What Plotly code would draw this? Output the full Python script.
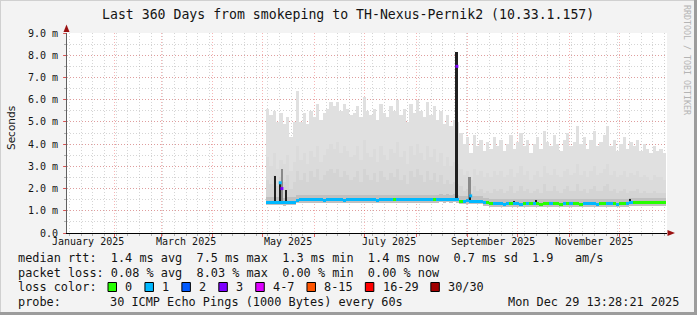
import plotly.graph_objects as go
import pandas as pd

# ---------------- data ----------------
axis_start = "2025-01-03 13:28:21"
axis_end = "2025-12-29 13:28:21"
data_start = "2025-05-03"          # first 2-day bin
bin_days = 2

smoke_max = [5.6, 5.3, 5.5, 5.0, 5.4, 4.9, 5.2, 4.3, 5.0, 6.4,
             5.0, 5.4, 4.9, 5.5, 5.2, 5.8, 5.1, 5.4, 5.6, 5.9,
             5.7, 5.9, 5.5, 5.8, 5.6, 5.3, 5.4, 5.7, 5.2, 6.1,
             5.5, 5.3, 5.6, 5.1, 5.8, 5.4, 5.2, 5.7, 5.5, 6.0,
             5.3, 5.6, 5.0, 5.8, 5.4, 6.0, 5.5, 5.2, 5.9, 5.3,
             5.7, 5.1, 5.5, 4.9, 5.3, 4.8, 5.1, 5.0, 4.5, 4.0,
             4.3, 3.6, 4.4, 3.9, 4.2, 3.7, 4.1, 3.8, 4.3, 3.9,
             4.2, 3.7, 4.0, 4.4, 3.8, 4.1, 4.5, 3.9, 4.2, 3.6,
             4.0, 4.3, 3.8, 4.6, 4.1, 3.9, 4.4, 4.0, 3.7, 4.2,
             4.5, 3.9, 4.1, 4.8, 4.0, 4.3, 3.8, 4.2, 4.6, 3.9,
             4.1, 4.4, 4.8, 3.9, 4.2, 3.7, 4.0, 4.3, 3.8, 4.1,
             3.9, 4.2, 3.7, 4.0, 3.8, 3.6, 3.9, 3.7, 3.8, 3.6]

smoke_p85 = [3.4, 3.0, 3.6, 2.9, 3.3, 3.1, 3.5, 2.8, 3.2, 3.9,
             3.3, 3.6, 3.1, 3.7, 3.4, 3.9, 3.2, 3.5, 3.8, 4.0,
             3.8, 4.1, 3.6, 3.9, 3.7, 3.4, 3.5, 3.9, 3.3, 4.2,
             3.6, 3.4, 3.8, 3.2, 3.9, 3.5, 3.3, 3.8, 3.6, 4.1,
             3.4, 3.7, 3.1, 3.9, 3.5, 4.0, 3.6, 3.3, 3.9, 3.4,
             3.8, 3.2, 3.6, 3.0, 3.4, 3.0, 3.2, 3.1, 2.9, 2.6,
             2.8, 2.4, 2.9, 2.6, 2.8, 2.5, 2.7, 2.5, 2.8, 2.6,
             2.8, 2.5, 2.6, 2.9, 2.5, 2.7, 3.0, 2.6, 2.8, 2.4,
             2.6, 2.8, 2.5, 3.0, 2.7, 2.6, 2.9, 2.6, 2.5, 2.8,
             2.9, 2.6, 2.7, 3.1, 2.6, 2.8, 2.5, 2.8, 3.0, 2.6,
             2.7, 2.9, 3.1, 2.6, 2.8, 2.5, 2.6, 2.8, 2.5, 2.7,
             2.6, 2.8, 2.5, 2.6, 2.5, 2.4, 2.6, 2.5, 2.5, 2.4]

smoke_p70 = [2.4, 2.2, 2.6, 2.1, 2.5, 2.3, 2.6, 2.0, 2.3, 2.8,
             2.4, 2.7, 2.3, 2.8, 2.5, 2.9, 2.4, 2.6, 2.8, 2.9,
             2.7, 2.9, 2.5, 2.8, 2.6, 2.4, 2.5, 2.8, 2.3, 2.9,
             2.6, 2.4, 2.7, 2.3, 2.8, 2.5, 2.4, 2.7, 2.5, 2.9,
             2.4, 2.6, 2.2, 2.8, 2.5, 2.9, 2.6, 2.3, 2.8, 2.4,
             2.7, 2.3, 2.6, 2.2, 2.4, 2.2, 2.3, 2.2, 2.1, 1.9,
             2.0, 1.8, 2.1, 1.9, 2.0, 1.8, 1.9, 1.8, 2.0, 1.9,
             2.0, 1.8, 1.9, 2.1, 1.8, 1.9, 2.1, 1.9, 2.0, 1.8,
             1.9, 2.0, 1.8, 2.2, 1.9, 1.9, 2.1, 1.9, 1.8, 2.0,
             2.1, 1.9, 1.9, 2.2, 1.9, 2.0, 1.8, 2.0, 2.1, 1.9,
             1.9, 2.1, 2.2, 1.9, 2.0, 1.8, 1.9, 2.0, 1.8, 1.9,
             1.9, 2.0, 1.8, 1.9, 1.8, 1.8, 1.9, 1.8, 1.8, 1.8]

smoke_min = [1.28, 1.28, 1.27, 1.28, 1.28, 1.27, 1.28, 1.28, 1.28, 1.37,
             1.38, 1.38, 1.38, 1.37, 1.38, 1.38, 1.38, 1.37, 1.38, 1.38,
             1.38, 1.38, 1.37, 1.38, 1.38, 1.38, 1.38, 1.37, 1.38, 1.38,
             1.38, 1.38, 1.38, 1.37, 1.38, 1.38, 1.38, 1.38, 1.37, 1.38,
             1.38, 1.38, 1.38, 1.38, 1.38, 1.37, 1.38, 1.39, 1.38, 1.38,
             1.39, 1.38, 1.39, 1.40, 1.39, 1.40, 1.39, 1.38, 1.33, 1.33,
             1.34, 1.33, 1.33, 1.32, 1.33, 1.26, 1.26, 1.20, 1.20, 1.21,
             1.20, 1.20, 1.20, 1.21, 1.20, 1.20, 1.20, 1.19, 1.20, 1.20,
             1.21, 1.20, 1.20, 1.20, 1.20, 1.21, 1.20, 1.20, 1.20, 1.20,
             1.20, 1.21, 1.20, 1.20, 1.20, 1.20, 1.21, 1.20, 1.20, 1.20,
             1.20, 1.20, 1.21, 1.20, 1.20, 1.20, 1.20, 1.20, 1.21, 1.24,
             1.24, 1.24, 1.25, 1.24, 1.24, 1.24, 1.25, 1.24, 1.24, 1.24]

median_rtt = [1.38, 1.38, 1.39, 1.38, 1.38, 1.37, 1.38, 1.38, 1.39, 1.48,
              1.49, 1.49, 1.50, 1.49, 1.49, 1.50, 1.49, 1.48, 1.49, 1.49,
              1.50, 1.49, 1.49, 1.48, 1.49, 1.50, 1.49, 1.49, 1.50, 1.49,
              1.49, 1.50, 1.49, 1.48, 1.49, 1.49, 1.50, 1.49, 1.49, 1.50,
              1.49, 1.49, 1.50, 1.50, 1.49, 1.50, 1.51, 1.50, 1.50, 1.51,
              1.50, 1.51, 1.52, 1.51, 1.52, 1.51, 1.52, 1.50, 1.44, 1.44,
              1.45, 1.44, 1.44, 1.43, 1.44, 1.37, 1.37, 1.31, 1.31, 1.32,
              1.31, 1.30, 1.31, 1.31, 1.32, 1.31, 1.30, 1.31, 1.31, 1.31,
              1.32, 1.31, 1.30, 1.31, 1.31, 1.31, 1.32, 1.31, 1.30, 1.31,
              1.31, 1.32, 1.31, 1.31, 1.30, 1.31, 1.31, 1.32, 1.31, 1.30,
              1.31, 1.31, 1.31, 1.32, 1.31, 1.30, 1.31, 1.31, 1.31, 1.36,
              1.36, 1.36, 1.37, 1.36, 1.36, 1.36, 1.37, 1.36, 1.36, 1.36]

loss_count = [1, 1, 1, 1, 1, 1, 1, 1, 1, 1,
              1, 1, 1, 1, 1, 1, 1, 1, 1, 1,
              1, 1, 1, 1, 1, 1, 1, 1, 1, 1,
              1, 1, 1, 1, 1, 1, 1, 1, 0, 1,
              1, 1, 1, 1, 1, 1, 1, 1, 1, 1,
              0, 1, 1, 1, 1, 1, 1, 1, 0, 1,
              1, 1, 1, 1, 1, 1, 0, 0, 1, 1,
              1, 1, 1, 0, 1, 1, 1, 0, 1, 0,
              1, 0, 0, 0, 0, 1, 0, 0, 0, 1,
              0, 1, 0, 0, 0, 1, 1, 1, 1, 1,
              0, 0, 1, 1, 0, 1, 0, 0, 1, 1,
              0, 0, 0, 0, 0, 0, 0, 0, 0, 0]

# isolated spikes: date, low, high
spike_dates = ["2025-05-08 12:00", "2025-05-11 12:00", "2025-05-12 12:00", "2025-05-15 00:00",
               "2025-08-25 12:00", "2025-09-02 06:00", "2025-09-02 18:00", "2025-09-29 00:00",
               "2025-10-12 00:00", "2025-12-07 12:00"]
spike_low = [1.40, 1.40, 1.40, 1.40, 1.50, 1.46, 1.46, 1.30, 1.30, 1.33]
spike_high = [2.57, 2.25, 2.90, 1.93, 8.16, 2.50, 1.72, 1.45, 1.47, 1.52]
spike_days = [1.0, 1.0, 1.0, 1.0, 1.8, 1.0, 1.0, 1.0, 1.0, 1.0]
spike_shade = [0, 0, 1, 0, 0, 1, 0, 0, 0, 0]

dot_dates = ["2025-05-11 12:00", "2025-05-12 12:00", "2025-08-25 12:00", "2025-09-02 18:00"]
dot_values = [2.26, 2.00, 7.50, 1.67]
dot_loss = [1, 3, 3, 1]

y_ticks = [0, 1, 2, 3, 4, 5, 6, 7, 8, 9]
y_ticktext = ["0.0", "1.0 m", "2.0 m", "3.0 m", "4.0 m", "5.0 m", "6.0 m", "7.0 m", "8.0 m", "9.0 m"]
month_labels = ["January 2025", "March 2025", "May 2025", "July 2025", "September 2025", "November 2025"]
month_label_dates = ["2025-01-16", "2025-03-16", "2025-05-16", "2025-07-16", "2025-09-16", "2025-11-16"]

loss_labels = ["0", "1", "2", "3", "4-7", "8-15", "16-29", "30/30"]
loss_colors = ["#26ff00", "#00b8ff", "#0059ff", "#7e00ff", "#dd00ff", "#ff5500", "#ff0000", "#a10000"]

# ---------------- geometry helpers ----------------
W, H = 697, 315
L, R, T, B = 67, 30, 33, 82
PW, PH = W - L - R, H - T - B

def px(x):
    return (x - L) / PW

def py(y):
    return (H - B - y) / PH

MONO = "DejaVu Sans Mono"
TXT = "#141414"

n = len(median_rtt)
centers = pd.date_range(data_start, periods=n, freq=f"{bin_days}D") + pd.Timedelta(hours=24 * bin_days / 2)
bw = bin_days * 86400000

fig = go.Figure()

def band(low, high, color):
    fig.add_trace(go.Bar(x=centers, base=low, y=[h - l for l, h in zip(low, high)],
                         width=bw, marker=dict(color=color, line=dict(width=0)),
                         hoverinfo="skip", showlegend=False))

band(smoke_min, smoke_max, "#e0e0e0")
band(smoke_min, smoke_p85, "#dbdbdb")
band(smoke_min, smoke_p70, "#d4d4d4")

# dark halo around median
fig.add_trace(go.Bar(x=centers, base=[m - 0.14 for m in median_rtt], y=[0.36] * n, width=bw,
                     marker=dict(color="#c0c0c0", line=dict(width=0)), hoverinfo="skip", showlegend=False))

# spikes
shade_cols = ["#202020", "#8a8a8a"]
fig.add_trace(go.Bar(x=pd.to_datetime(spike_dates), base=spike_low,
                     y=[h - l for l, h in zip(spike_low, spike_high)],
                     width=[d * 86400000 for d in spike_days],
                     marker=dict(color=[shade_cols[s] for s in spike_shade], line=dict(width=0)),
                     hoverinfo="skip", showlegend=False))

# median coloured by loss
thick = 3 / (PH / 9)
fig.add_trace(go.Bar(x=centers, base=[m - thick / 2 for m in median_rtt], y=[thick] * n, width=bw,
                     marker=dict(color=[loss_colors[k] for k in loss_count], line=dict(width=0)),
                     hoverinfo="skip", showlegend=False))

fig.add_trace(go.Scatter(x=pd.to_datetime(dot_dates), y=dot_values, mode="markers",
                         marker=dict(symbol="square", size=3, color=[loss_colors[k] for k in dot_loss],
                                     line=dict(width=0)),
                         hoverinfo="skip", showlegend=False))

major_grid = "rgba(235,90,90,0.45)"
minor_grid = "rgba(150,150,150,0.40)"

fig.update_layout(
    width=W, height=H, margin=dict(l=L, r=R, t=T, b=B, pad=0),
    paper_bgcolor="#f3f3f3", plot_bgcolor="#ffffff",
    barmode="overlay", bargap=0, showlegend=False,
    xaxis=dict(type="date", range=[axis_start, axis_end], dtick="M1", tick0="2025-01-01",
               showticklabels=False, showgrid=True, gridcolor=major_grid, griddash="1px,2px", gridwidth=1,
               ticks="outside", ticklen=3, tickcolor="rgba(220,60,60,0.8)",
               minor=dict(dtick=7 * 86400000, tick0="2025-01-05", showgrid=True, gridcolor=minor_grid,
                          griddash="1px,2px", ticks="outside", ticklen=2, tickcolor="#b0b0b0"),
               showline=True, linecolor="#000000", linewidth=1, zeroline=False, fixedrange=True),
    yaxis=dict(range=[0, 9], tickvals=y_ticks, ticktext=y_ticktext,
               tickfont=dict(family=MONO, size=10, color=TXT),
               showgrid=True, gridcolor=major_grid, griddash="1px,2px",
               ticks="outside", ticklen=3, tickcolor="rgba(220,60,60,0.8)",
               minor=dict(dtick=0.5, showgrid=True, gridcolor=minor_grid, griddash="1px,2px",
                          ticks="outside", ticklen=2, tickcolor="#b0b0b0"),
               showline=True, linecolor="#606060", linewidth=1, zeroline=False, fixedrange=True,
               ticklabelstandoff=3),
)

ann = []
ann.append(dict(text="Last 360 Days from smokeping to TH-Nexus-Pernik2 (10.33.1.157)",
                x=px(348), y=py(14), xref="paper", yref="paper", showarrow=False,
                xanchor="center", yanchor="middle", font=dict(family=MONO, size=13.2, color=TXT)))
ann.append(dict(text="Seconds", x=px(11), y=py(128), xref="paper", yref="paper", showarrow=False,
                textangle=-90, xanchor="center", yanchor="middle",
                font=dict(family="DejaVu Sans", size=10.5, color=TXT)))
ann.append(dict(text="RRDTOOL / TOBI OETIKER", x=px(687), y=py(60), xref="paper", yref="paper",
                showarrow=False, textangle=90, xanchor="center", yanchor="middle",
                font=dict(family=MONO, size=8.3, color="#b4b4b4")))
for lab, d in zip(month_labels, month_label_dates):
    ann.append(dict(text=lab, x=d, y=py(241), xref="x", yref="paper", showarrow=False,
                    xanchor="center", yanchor="middle", font=dict(family=MONO, size=10, color=TXT)))

CW = 7.14
FS = CW / 0.602

def mono(s, x, y, anchor="left"):
    ann.append(dict(text=s.replace(" ", "\u00a0"), x=px(x), y=py(y), xref="paper", yref="paper",
                    showarrow=False, xanchor=anchor, yanchor="middle",
                    font=dict(family=MONO, size=FS, color=TXT)))

mono("median rtt:  1.4 ms avg  7.5 ms max  1.3 ms min  1.4 ms now  0.7 ms sd  1.9   am/s", 16, 258)
mono("packet loss: 0.08 % avg  8.03 % max  0.00 % min  0.00 % now", 16, 272.5)
mono("loss color:", 16, 287)
mono("probe:", 16, 301.5)
mono("30 ICMP Echo Pings (1000 Bytes) every 60s", 107.5, 301.5)
mono("Mon Dec 29 13:28:21 2025", 681, 301.5, anchor="right")

shapes = []
bx = 108.0
for lab, col in zip(loss_labels, loss_colors):
    shapes.append(dict(type="rect", xref="paper", yref="paper", x0=px(bx), x1=px(bx + 8.5),
                       y0=py(291.5), y1=py(282.5), fillcolor=col, line=dict(color="#000000", width=1)))
    mono(lab, bx + 15.4, 287)
    bx = bx + 15.4 + len(lab) * CW + 14.4

# axis arrows
shapes.append(dict(type="path", xref="paper", yref="paper",
                   path=f"M {px(66.5)} {py(24.5)} L {px(63.5)} {py(32)} L {px(69.5)} {py(32)} Z",
                   fillcolor="#9a1010", line=dict(width=0)))
shapes.append(dict(type="path", xref="paper", yref="paper",
                   path=f"M {px(675)} {py(233)} L {px(667.5)} {py(230)} L {px(667.5)} {py(236)} Z",
                   fillcolor="#9a1010", line=dict(width=0)))
# 3D border
shapes.append(dict(type="line", xref="paper", yref="paper", x0=px(695.5), x1=px(695.5), y0=py(0), y1=py(315),
                   line=dict(color="#9c9c9c", width=3)))
shapes.append(dict(type="line", xref="paper", yref="paper", x0=px(0), x1=px(697), y0=py(313.5), y1=py(313.5),
                   line=dict(color="#9c9c9c", width=3)))
shapes.append(dict(type="line", xref="paper", yref="paper", x0=px(0.5), x1=px(0.5), y0=py(0), y1=py(312),
                   line=dict(color="#d0d0d0", width=1)))
shapes.append(dict(type="line", xref="paper", yref="paper", x0=px(0), x1=px(694), y0=py(0.5), y1=py(0.5),
                   line=dict(color="#d0d0d0", width=1)))

fig.update_layout(annotations=ann, shapes=shapes)
fig.write_html("out.html", config={"displayModeBar": False})
